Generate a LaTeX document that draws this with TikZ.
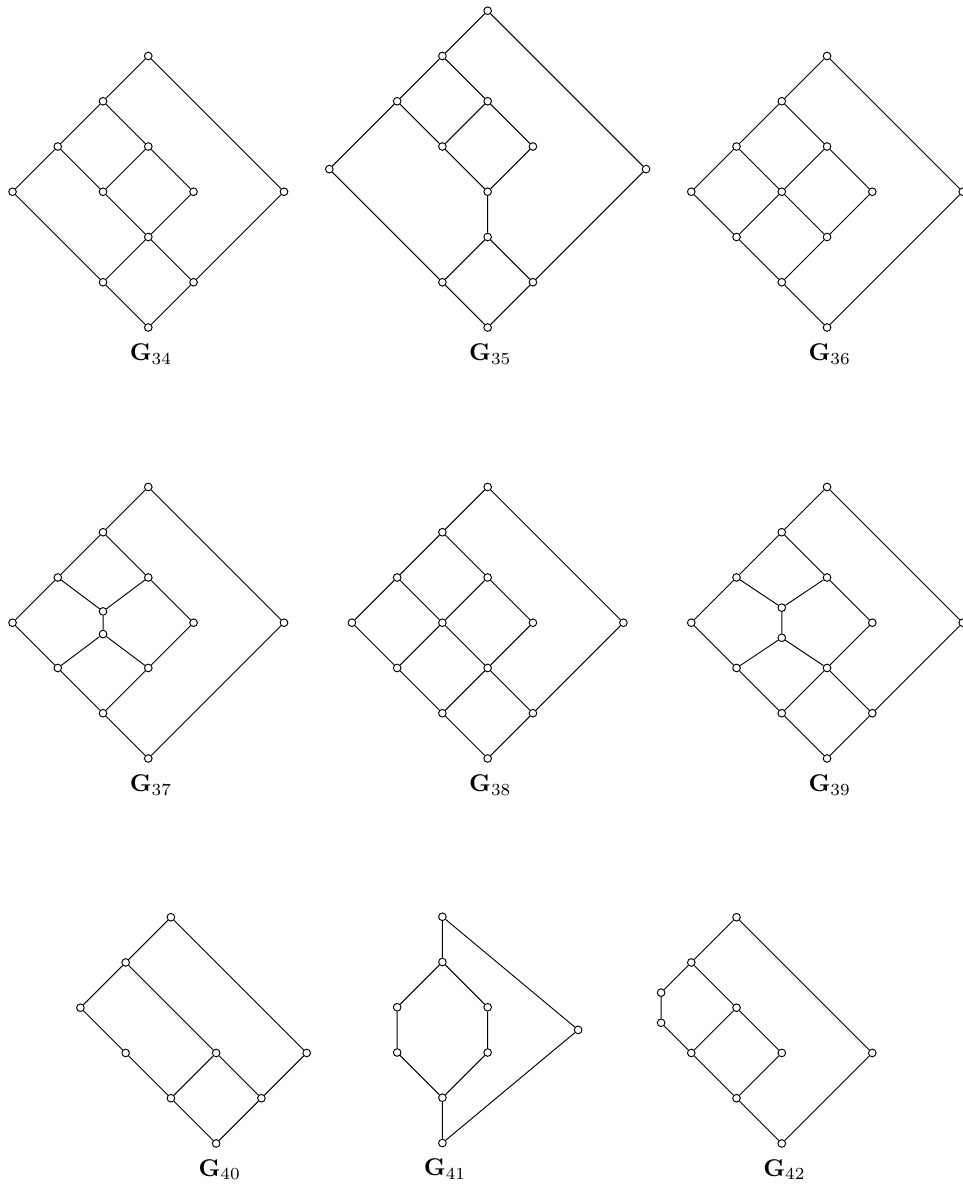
\documentclass[tikz,border=0pt]{standalone}
\usepackage{graphicx}
\begin{document}
\begin{tikzpicture}[x=1cm,y=-1cm,line width=0.6pt,
  v/.style={circle,draw,fill=white,inner sep=0pt,minimum size=4.8pt},
  lab/.style={anchor=base,inner sep=0pt}]
\useasboundingbox (0,0) rectangle (21.26,26.365);

% ---------- G34 ----------
\begin{scope}[shift={(3.277,1.2376)}, name prefix=A-]
  \node[v] (t) at (0,0) {};
  \node[v] (a) at (-1,1) {};
  \node[v] (b) at (-2,2) {};
  \node[v] (c) at (-3,3) {};
  \node[v] (d) at (0,2) {};
  \node[v] (e) at (-1,3) {};
  \node[v] (f) at (1,3) {};
  \node[v] (g) at (0,4) {};
  \node[v] (h) at (-1,5) {};
  \node[v] (i) at (1,5) {};
  \node[v] (j) at (0,6) {};
  \node[v] (r) at (3,3) {};
  \draw (t)--(a) (t)--(r) (a)--(b) (a)--(d) (b)--(c) (b)--(e) (d)--(e) (d)--(f)
        (e)--(g) (f)--(g) (c)--(h) (g)--(h) (g)--(i) (h)--(j) (i)--(j) (r)--(i);
  \node[lab] (L) at (0.06,6.73) {\scalebox{1.52}{$\mathbf{G}_{34}$}};
\end{scope}

% ---------- G35 ----------
\begin{scope}[shift={(10.777,0.2376)}, name prefix=B-]
  \node[v] (t) at (0,0) {};
  \node[v] (a) at (-1,1) {};
  \node[v] (b) at (-2,2) {};
  \node[v] (c) at (0,2) {};
  \node[v] (l) at (-3.5,3.5) {};
  \node[v] (d) at (-1,3) {};
  \node[v] (e) at (1,3) {};
  \node[v] (f) at (0,4) {};
  \node[v] (g) at (0,5) {};
  \node[v] (h) at (-1,6) {};
  \node[v] (i) at (1,6) {};
  \node[v] (j) at (0,7) {};
  \node[v] (r) at (3.5,3.5) {};
  \draw (t)--(a) (t)--(r) (a)--(b) (a)--(c) (b)--(l) (b)--(d) (c)--(d) (c)--(e)
        (d)--(f) (e)--(f) (f)--(g) (g)--(h) (g)--(i) (l)--(h) (r)--(i) (h)--(j) (i)--(j);
  \node[lab] (L) at (0.06,7.73) {\scalebox{1.52}{$\mathbf{G}_{35}$}};
\end{scope}

% ---------- G36 ----------
\begin{scope}[shift={(18.277,1.2376)}, name prefix=C-]
  \node[v] (t) at (0,0) {};
  \node[v] (a) at (-1,1) {};
  \node[v] (b) at (-2,2) {};
  \node[v] (c) at (-3,3) {};
  \node[v] (d) at (0,2) {};
  \node[v] (e) at (-1,3) {};
  \node[v] (f) at (1,3) {};
  \node[v] (g) at (-2,4) {};
  \node[v] (h) at (0,4) {};
  \node[v] (i) at (-1,5) {};
  \node[v] (j) at (0,6) {};
  \node[v] (r) at (3,3) {};
  \draw (t)--(a) (t)--(r) (a)--(b) (a)--(d) (b)--(c) (b)--(e) (d)--(e) (d)--(f)
        (c)--(g) (e)--(g) (e)--(h) (f)--(h) (g)--(i) (h)--(i) (i)--(j) (r)--(j);
  \node[lab] (L) at (0.06,6.73) {\scalebox{1.52}{$\mathbf{G}_{36}$}};
\end{scope}

% ---------- G37 ----------
\begin{scope}[shift={(3.277,10.762)}, name prefix=D-]
  \node[v] (t) at (0,0) {};
  \node[v] (a) at (-1,1) {};
  \node[v] (b) at (-2,2) {};
  \node[v] (c) at (-3,3) {};
  \node[v] (d) at (0,2) {};
  \node[v] (m) at (-1,2.75) {};
  \node[v] (n) at (-1,3.25) {};
  \node[v] (f) at (1,3) {};
  \node[v] (g) at (-2,4) {};
  \node[v] (h) at (0,4) {};
  \node[v] (i) at (-1,5) {};
  \node[v] (j) at (0,6) {};
  \node[v] (r) at (3,3) {};
  \draw (t)--(a) (t)--(r) (a)--(b) (a)--(d) (b)--(c) (b)--(m) (d)--(m) (d)--(f)
        (m)--(n) (n)--(g) (n)--(h) (c)--(g) (f)--(h) (g)--(i) (h)--(i) (i)--(j) (r)--(j);
  \node[lab] (L) at (0.06,6.73) {\scalebox{1.52}{$\mathbf{G}_{37}$}};
\end{scope}

% ---------- G38 ----------
\begin{scope}[shift={(10.777,10.762)}, name prefix=E-]
  \node[v] (t) at (0,0) {};
  \node[v] (a) at (-1,1) {};
  \node[v] (b) at (-2,2) {};
  \node[v] (c) at (-3,3) {};
  \node[v] (d) at (0,2) {};
  \node[v] (e) at (-1,3) {};
  \node[v] (f) at (1,3) {};
  \node[v] (g) at (-2,4) {};
  \node[v] (h) at (0,4) {};
  \node[v] (i) at (-1,5) {};
  \node[v] (k) at (1,5) {};
  \node[v] (j) at (0,6) {};
  \node[v] (r) at (3,3) {};
  \draw (t)--(a) (t)--(r) (a)--(b) (a)--(d) (b)--(c) (b)--(e) (d)--(e) (d)--(f)
        (c)--(g) (e)--(g) (e)--(h) (f)--(h) (g)--(i) (h)--(i) (h)--(k) (i)--(j) (k)--(j) (r)--(k);
  \node[lab] (L) at (0.06,6.73) {\scalebox{1.52}{$\mathbf{G}_{38}$}};
\end{scope}

% ---------- G39 ----------
\begin{scope}[shift={(18.277,10.762)}, name prefix=F-]
  \node[v] (t) at (0,0) {};
  \node[v] (a) at (-1,1) {};
  \node[v] (b) at (-2,2) {};
  \node[v] (c) at (-3,3) {};
  \node[v] (d) at (0,2) {};
  \node[v] (m) at (-1,2.667) {};
  \node[v] (n) at (-1,3.333) {};
  \node[v] (f) at (1,3) {};
  \node[v] (g) at (-2,4) {};
  \node[v] (h) at (0,4) {};
  \node[v] (i) at (-1,5) {};
  \node[v] (k) at (1,5) {};
  \node[v] (j) at (0,6) {};
  \node[v] (r) at (3,3) {};
  \draw (t)--(a) (t)--(r) (a)--(b) (a)--(d) (b)--(c) (b)--(m) (d)--(m) (d)--(f)
        (m)--(n) (n)--(g) (n)--(h) (c)--(g) (f)--(h) (g)--(i) (h)--(i) (h)--(k)
        (i)--(j) (k)--(j) (r)--(k);
  \node[lab] (L) at (0.06,6.73) {\scalebox{1.52}{$\mathbf{G}_{39}$}};
\end{scope}

% ---------- G40 ----------
\begin{scope}[shift={(3.777,20.27)}, name prefix=G-]
  \node[v] (t) at (0,0) {};
  \node[v] (a) at (-1,1) {};
  \node[v] (b) at (-2,2) {};
  \node[v] (c) at (-1,3) {};
  \node[v] (d) at (1,3) {};
  \node[v] (r) at (3,3) {};
  \node[v] (e) at (0,4) {};
  \node[v] (f) at (2,4) {};
  \node[v] (j) at (1,5) {};
  \draw (t)--(a) (t)--(r) (a)--(b) (a)--(d) (b)--(c) (c)--(e) (d)--(e) (d)--(f)
        (r)--(f) (e)--(j) (f)--(j);
  \node[lab] (L) at (1.08,5.72) {\scalebox{1.52}{$\mathbf{G}_{40}$}};
\end{scope}

% ---------- G41 ----------
\begin{scope}[shift={(9.777,20.26)}, name prefix=H-]
  \node[v] (t) at (0,0) {};
  \node[v] (a) at (0,1) {};
  \node[v] (b) at (-1,2) {};
  \node[v] (c) at (1,2) {};
  \node[v] (d) at (-1,3) {};
  \node[v] (e) at (1,3) {};
  \node[v] (f) at (0,4) {};
  \node[v] (j) at (0,5) {};
  \node[v] (r) at (3,2.5) {};
  \draw (t)--(a) (t)--(r) (a)--(b) (a)--(c) (b)--(d) (c)--(e) (d)--(f) (e)--(f)
        (f)--(j) (r)--(j);
  \node[lab] (L) at (0.06,5.72) {\scalebox{1.52}{$\mathbf{G}_{41}$}};
\end{scope}

% ---------- G42 ----------
\begin{scope}[shift={(16.277,20.27)}, name prefix=I-]
  \node[v] (t) at (0,0) {};
  \node[v] (a) at (-1,1) {};
  \node[v] (p) at (-1.667,1.667) {};
  \node[v] (q) at (-1.667,2.333) {};
  \node[v] (d) at (0,2) {};
  \node[v] (e) at (-1,3) {};
  \node[v] (f) at (1,3) {};
  \node[v] (r) at (3,3) {};
  \node[v] (g) at (0,4) {};
  \node[v] (j) at (1,5) {};
  \draw (t)--(a) (t)--(r) (a)--(p) (a)--(d) (p)--(q) (q)--(e) (d)--(e) (d)--(f)
        (e)--(g) (f)--(g) (g)--(j) (r)--(j);
  \node[lab] (L) at (1.06,5.72) {\scalebox{1.52}{$\mathbf{G}_{42}$}};
\end{scope}
\end{tikzpicture}
\end{document}
